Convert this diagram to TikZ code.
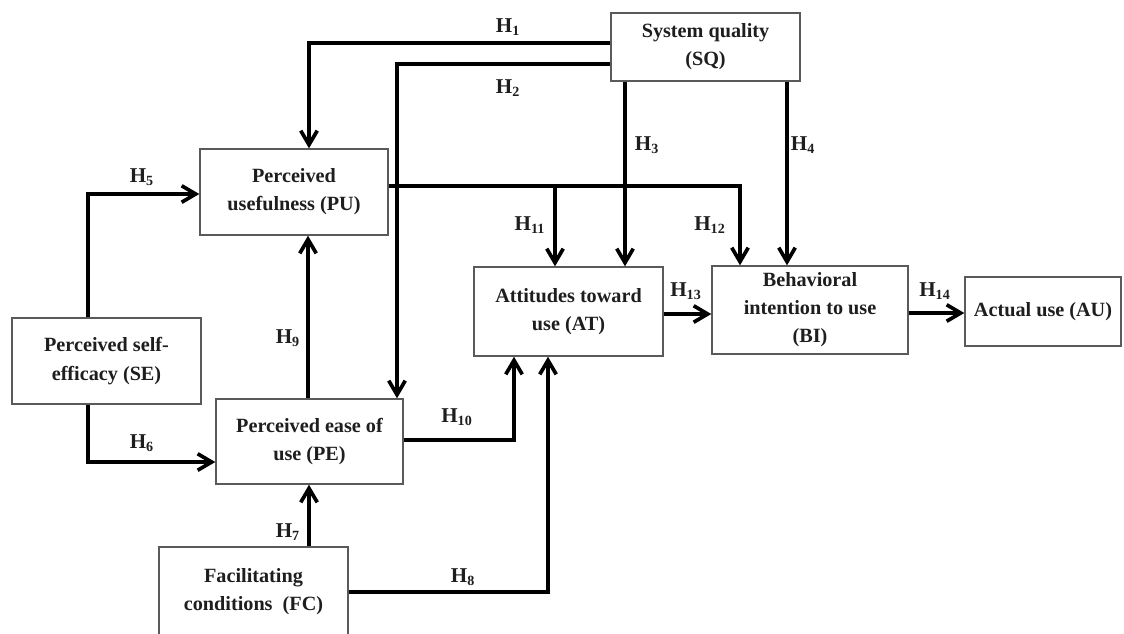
\documentclass[tikz,border=0pt]{standalone}
\usepackage{fontspec}
\setmainfont{Liberation Serif}
\usepackage{tikz}
\usetikzlibrary{arrows.meta, positioning, calc}
\definecolor{BoxLine}{HTML}{5A5A5A}
\definecolor{TextDark}{HTML}{1E1E1E}
\tikzset{
  % Box styles
  constructbox/.style={rectangle, draw=BoxLine, line width=0.8pt, fill=white, align=center, text=TextDark, font=\fontsize{11.5}{16}\selectfont\bfseries},
  % Arrow styles
  arrow/.style={-{Straight Barb[length=2.8mm, width=3.3mm]}, line width=2.1pt, black},
  % Label styles
  hyplabel/.style={font=\fontsize{12}{14}\selectfont\bfseries, text=TextDark, inner sep=0pt}
}
\newcommand{\hyp}[1]{H\textsubscript{#1}}

\begin{document}
\begin{tikzpicture}
  \useasboundingbox (0,0) rectangle (22.48,-12.66);

  % Constructs
  \node[constructbox, minimum width=3.78cm, minimum height=1.36cm] (SQ) at (14.11,-0.94) {System quality\\(SQ)};
  \node[constructbox, minimum width=3.76cm, minimum height=1.72cm] (PU) at (5.88,-3.84) {Perceived\\usefulness (PU)};
  \node[constructbox, minimum width=3.78cm, minimum height=1.78cm] (AT) at (11.37,-6.23) {Attitudes toward\\use (AT)};
  \node[constructbox, minimum width=3.92cm, minimum height=1.76cm] (BI) at (16.2,-6.2) {Behavioral\\intention to use\\(BI)};
  \node[constructbox, minimum width=3.12cm, minimum height=1.38cm] (AU) at (20.86,-6.23) {Actual use (AU)};
  \node[constructbox, minimum width=3.78cm, minimum height=1.72cm] (SE) at (2.13,-7.22) {Perceived self-\\efficacy (SE)};
  \node[constructbox, minimum width=3.74cm, minimum height=1.70cm] (PE) at (6.19,-8.83) {Perceived ease of\\use (PE)};
  \node[constructbox, minimum width=3.78cm, minimum height=1.80cm] (FC) at (5.07,-11.84) {Facilitating\\conditions~ (FC)};

  % Paths from system quality
  \draw[arrow] ([yshift=0.08cm]SQ.west) -| ([xshift=0.30cm]PU.north);
  \draw[arrow] ([yshift=-0.34cm]SQ.west) -| ([xshift=1.75cm]PE.north);
  \draw[arrow] ([xshift=-1.61cm]SQ.south) -- ([xshift=-1.61cm]SQ.south |- AT.north);
  \draw[arrow] ([xshift=1.63cm]SQ.south) -- ([xshift=1.63cm]SQ.south |- BI.north);

  % Paths from self-efficacy
  \draw[arrow] ([xshift=-0.37cm]SE.north) |- ([yshift=-0.04cm]PU.west);
  \draw[arrow] ([xshift=-0.37cm]SE.south) |- ([yshift=-0.41cm]PE.west);

  % Paths from facilitating conditions
  \draw[arrow] ([xshift=1.11cm]FC.north) -- ([xshift=1.11cm]FC.north |- PE.south);
  \draw[arrow] (FC.east) -| ([xshift=-0.41cm]AT.south);

  % Paths from ease of use and usefulness
  \draw[arrow] ([xshift=-0.03cm]PE.north) -- ([xshift=-0.03cm]PE.north |- PU.south);
  \draw[arrow] ([yshift=0.03cm]PE.east) -| ([xshift=-1.09cm]AT.south);
  \draw[arrow] ([yshift=0.12cm]PU.east) -| ([xshift=-0.27cm]AT.north);
  \draw[arrow] ([yshift=0.12cm]PU.east) -| ([xshift=-1.40cm]BI.north);

  % Paths to use
  \draw[arrow] ([yshift=-0.05cm]AT.east) -- ([yshift=-0.05cm]AT.east -| BI.west);
  \draw[arrow] ([yshift=-0.06cm]BI.east) -- ([yshift=-0.06cm]BI.east -| AU.west);

  % Hypothesis labels
  \node[hyplabel] (h1) at (10.16,-0.54) {\hyp{1}};
  \node[hyplabel] (h2) at (10.16,-1.76) {\hyp{2}};
  \node[hyplabel] (h3) at (12.94,-2.90) {\hyp{3}};
  \node[hyplabel] (h4) at (16.06,-2.90) {\hyp{4}};
  \node[hyplabel] (h5) at (2.84,-3.54) {\hyp{5}};
  \node[hyplabel] (h6) at (2.84,-8.86) {\hyp{6}};
  \node[hyplabel] (h7) at (5.76,-10.64) {\hyp{7}};
  \node[hyplabel] (h8) at (9.26,-11.54) {\hyp{8}};
  \node[hyplabel] (h9) at (5.76,-6.76) {\hyp{9}};
  \node[hyplabel] (h10) at (9.14,-8.34) {\hyp{10}};
  \node[hyplabel] (h11) at (10.60,-4.50) {\hyp{11}};
  \node[hyplabel] (h12) at (14.20,-4.50) {\hyp{12}};
  \node[hyplabel] (h13) at (13.72,-5.82) {\hyp{13}};
  \node[hyplabel] (h14) at (18.70,-5.82) {\hyp{14}};
\end{tikzpicture}
\end{document}
